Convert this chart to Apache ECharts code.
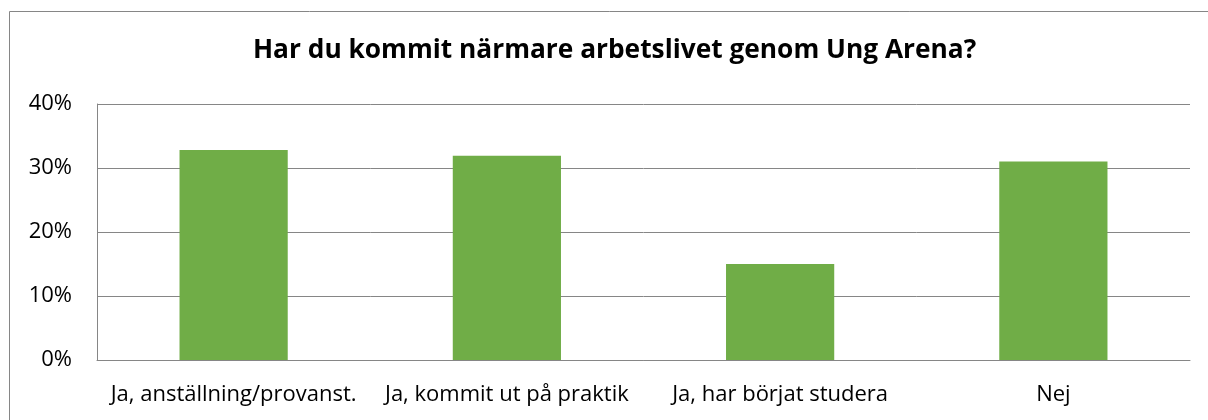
<!DOCTYPE html>
<html>
<head>
<meta charset="utf-8">
<script src="https://cdn.jsdelivr.net/npm/echarts@6/dist/echarts.min.js"></script>
<style>
  html, body { margin: 0; padding: 0; background: #fff; }
  #main { width: 1208px; height: 420px; }
</style>
</head>
<body>
<div id="main"></div>
<script>
// kategorier och andelar (procent)
const categories = ['Ja, anställning/provanst.', 'Ja, kommit ut på praktik', 'Ja, har börjat studera', 'Nej'];
const values = [32.8, 31.9, 15.0, 31.0];
const yTicks = [0, 10, 20, 30, 40];

const chartDom = document.getElementById('main');
const myChart = echarts.init(chartDom);

const font = '"Open Sans", sans-serif';
const gray = '#868686';

const option = {
  animation: false,
  graphic: [{
    type: 'rect',
    shape: { x: 9.5, y: 11.5, width: 1220, height: 440 },
    style: { fill: 'none', stroke: gray, lineWidth: 1 }
  }],
  title: {
    text: 'Har du kommit närmare arbetslivet genom Ung Arena?',
    left: 248,
    top: 33,
    textStyle: { fontFamily: font, fontWeight: 'bold', fontSize: 26.3, color: '#000' }
  },
  grid: { left: 97, right: 18, top: 104, bottom: 60 },
  xAxis: {
    type: 'category',
    data: categories,
    axisLine: { lineStyle: { color: gray } },
    axisTick: { inside: true, length: 7, lineStyle: { color: gray } },
    axisLabel: { fontFamily: font, fontSize: 22, color: '#000', margin: 24, interval: 0 }
  },
  yAxis: {
    type: 'value',
    min: yTicks[0],
    max: yTicks[yTicks.length - 1],
    interval: 10,
    axisLine: { show: true, lineStyle: { color: gray } },
    axisTick: { show: false },
    splitLine: { lineStyle: { color: gray } },
    axisLabel: { fontFamily: font, fontSize: 22, color: '#000', margin: 25, formatter: '{value}%' }
  },
  series: [{
    type: 'bar',
    data: values,
    barWidth: '39.6%',
    itemStyle: { color: '#70AD47' }
  }]
};

option && myChart.setOption(option);
</script>
</body>
</html>
